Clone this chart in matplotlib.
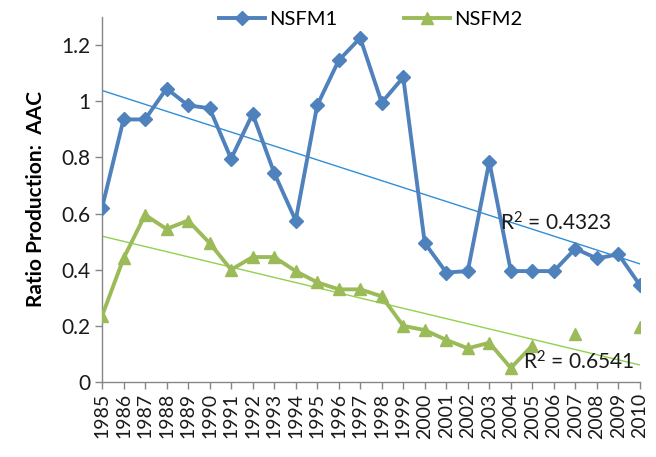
import numpy as np
import matplotlib
matplotlib.use("Agg")
import matplotlib.pyplot as plt
from matplotlib.lines import Line2D

plt.rcParams['font.family'] = ['Lato', 'DejaVu Sans']
plt.rcParams['mathtext.fontset'] = 'custom'
plt.rcParams['mathtext.rm'] = 'Lato'
plt.rcParams['mathtext.it'] = 'Lato'

years = list(range(1985, 2011))
nsfm1 = [0.62, 0.935, 0.935, 1.045, 0.985, 0.975, 0.795, 0.955, 0.745, 0.575,
         0.985, 1.145, 1.225, 0.995, 1.085, 0.495, 0.39, 0.395, 0.785, 0.395,
         0.395, 0.395, 0.475, 0.44, 0.455, 0.345]
nsfm2 = [0.235, 0.44, 0.595, 0.545, 0.575, 0.495, 0.40, 0.445, 0.445, 0.395,
         0.355, 0.33, 0.33, 0.305, 0.20, 0.185, 0.15, 0.12, 0.14, 0.05,
         0.13, np.nan, 0.17, np.nan, np.nan, 0.195]
r2_labels = [r"R$^{2}$ = 0.4323", r"R$^{2}$ = 0.6541"]
series_names = ["NSFM1", "NSFM2"]
y_ticks = [0, 0.2, 0.4, 0.6, 0.8, 1.0, 1.2]
y_tick_labels = ["0", "0.2", "0.4", "0.6", "0.8", "1", "1.2"]

blue = "#4F81BD"
green = "#9BBB59"
blue_trend = "#2F8FD8"
green_trend = "#92D050"

fig = plt.figure(figsize=(6.56, 4.57), dpi=100)
ax = fig.add_axes([0.1555, 0.164, 0.820, 0.799])

x = np.array(years, dtype=float)
y1 = np.array(nsfm1, dtype=float)
y2 = np.array(nsfm2, dtype=float)

# linear trend lines fitted on the available points
for y, c in ((y1, blue_trend), (y2, green_trend)):
    m = ~np.isnan(y)
    k, b = np.polyfit(x[m], y[m], 1)
    ax.plot(x, k * x + b, color=c, lw=1.0, zorder=2)

ax.plot(x, y1, color=blue, lw=2.8, marker="D", markersize=7, zorder=3,
        solid_joinstyle="round")
ax.plot(x, y2, color=green, lw=2.8, marker="^", markersize=8.5, zorder=3,
        solid_joinstyle="round")

ax.set_xlim(1985, 2010)
ax.set_ylim(0, 1.3)
ax.set_xticks(years)
ax.set_xticklabels([str(v) for v in years], rotation=90, fontsize=14)
ax.set_yticks(y_ticks)
ax.set_yticklabels(y_tick_labels, fontsize=15)
ax.set_ylabel("Ratio Production:  AAC", fontsize=15, fontweight="bold",
              labelpad=11)

for s in ("top", "right"):
    ax.spines[s].set_visible(False)
for s in ("left", "bottom"):
    ax.spines[s].set_color("#868686")
    ax.spines[s].set_linewidth(1.0)
ax.tick_params(axis="both", color="#868686", length=5, width=1.0,
               direction="out", colors="#868686", labelcolor="#1a1a1a")
ax.tick_params(axis="x", pad=3)

ax.text(2003.5, 0.565, r2_labels[0], fontsize=15, color="#1a1a1a",
        ha="left", va="center", zorder=4)
ax.text(2004.55, 0.07, r2_labels[1], fontsize=15, color="#1a1a1a",
        ha="left", va="center", zorder=4)

handles = [Line2D([], [], color=blue, lw=2.8, marker="D", markersize=7),
           Line2D([], [], color=green, lw=2.8, marker="^", markersize=8.5)]
fig.legend(handles, series_names, loc="center", bbox_to_anchor=(0.565, 0.958),
           ncol=2, frameon=False, fontsize=14.5, handlelength=2.3,
           handletextpad=0.2, columnspacing=3.3)

fig.savefig("out.png", dpi=100)
